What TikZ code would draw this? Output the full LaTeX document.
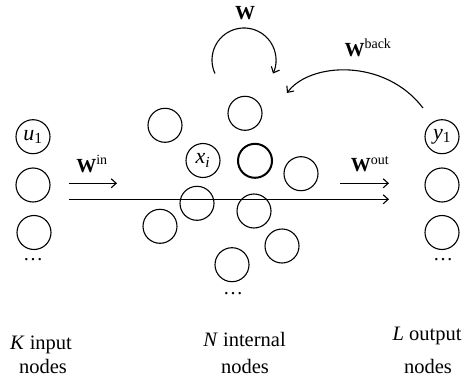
\documentclass[tikz,border=0pt]{standalone}
\usepackage{fontspec}
\setmainfont{Liberation Serif}
\usetikzlibrary{arrows.meta}
\begin{document}
\begin{tikzpicture}[x=1pt,y=1pt,
  unit/.style={circle,draw,line width=1.1pt,minimum size=34pt,inner sep=0pt,font=\fontsize{22}{22}\selectfont},
  boldunit/.style={unit,line width=2pt},
  lbl/.style={font=\fontsize{20}{24}\selectfont,inner sep=0pt},
  conn/.style={line width=1.1pt,-{Straight Barb[length=5pt,width=9pt]}},
  txt/.style={font=\fontsize{20.5}{24}\selectfont,anchor=base,inner sep=0pt}]
\useasboundingbox (0,0) rectangle (468,381);
% input nodes
\node[unit] (u1) at (33,244.3) {\textit{u}\textsubscript{1}};
\node[unit] (u2) at (33,196) {};
\node[unit] (u3) at (34,148.5) {};
\node[lbl] (ud) at (33,121) {\dots};
% internal nodes
\node[unit] (n1) at (245,267.7) {};
\node[unit] (n2) at (165,255.7) {};
\node[unit] (xi) at (203,220.5) {\textit{x}\textsubscript{\textit{i}}};
\node[boldunit] (nb) at (255,220.2) {};
\node[unit] (n3) at (301,207.3) {};
\node[unit] (n4) at (197,177.7) {};
\node[unit] (n5) at (160,154.7) {};
\node[unit] (n6) at (254,170) {};
\node[unit] (n7) at (282,135) {};
\node[unit] (n8) at (232,116.3) {};
\node[lbl] (nd) at (233,87) {\dots};
% output nodes
\node[unit] (y1) at (442,244.3) {\textit{y}\textsubscript{1}};
\node[unit] (y2) at (442,196) {};
\node[unit] (y3) at (442,148.5) {};
\node[lbl] (yd) at (443,121) {\dots};
% arrows
\coordinate (a1s) at (69,197.7); \coordinate (a1e) at (117,197.7);
\draw[conn] (a1s) -- (a1e);
\node[lbl] (win) at (92,217) {\textbf{W}\textsuperscript{in}};
\coordinate (a2s) at (69,181.7); \coordinate (a2e) at (389,181.7);
\draw[conn] (a2s) -- (a2e);
\coordinate (a3s) at (340,197.7); \coordinate (a3e) at (389,197.7);
\draw[conn] (a3s) -- (a3e);
\node[lbl] (wout) at (370,217) {\textbf{W}\textsuperscript{out}};
% W loop
\coordinate (wc) at (244,321);
\draw[conn] ([shift={(205:32)}]wc) arc[start angle=205,end angle=-25,radius=32];
\node[lbl] (w) at (245,367.7) {\textbf{W}};
% W back
\coordinate (bs) at (423,273); \coordinate (be) at (287,288);
\draw[conn] (bs) .. controls (385,323) and (310,319) .. (be);
\node[lbl] (wback) at (368,333) {\textbf{W}\textsuperscript{back}};
% bottom text
\node[txt] (k1) at (41,31.7) {\textit{K} input};
\node[txt] (k2) at (43,7.7) {nodes};
\node[txt] (nn1) at (244.5,35) {\textit{N} internal};
\node[txt] (nn2) at (245,7.7) {nodes};
\node[txt] (l1) at (427,41) {\textit{L} output};
\node[txt] (l2) at (428,7.7) {nodes};
\end{tikzpicture}
\end{document}
